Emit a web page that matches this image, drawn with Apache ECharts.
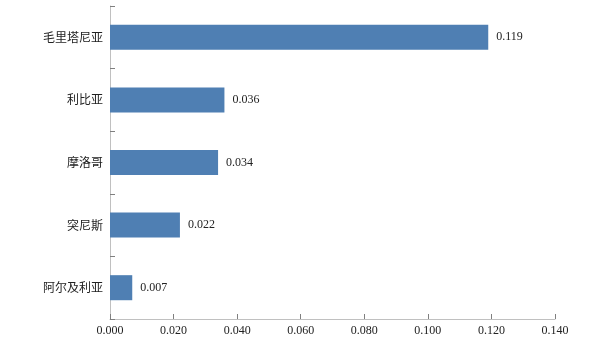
<!DOCTYPE html>
<html>
<head>
<meta charset="utf-8">
<script src="https://cdn.jsdelivr.net/npm/echarts@6/dist/echarts.min.js"></script>
<style>
  html, body { margin: 0; padding: 0; background: #ffffff; }
  #chart { width: 594px; height: 338px; }
</style>
</head>
<body>
<div id="chart"></div>
<script>
// Countries, listed top to bottom
const countries = ['毛里塔尼亚', '利比亚', '摩洛哥', '突尼斯', '阿尔及利亚'];
// Value per country
const values = [0.119, 0.036, 0.034, 0.022, 0.007];
// Value axis range
const axisMin = 0;
const axisMax = 0.14;
const axisStep = 0.02;

const latin = '"Liberation Serif", "Times New Roman", serif';
const cjk = '"Noto Sans CJK SC", sans-serif';
const axisGrey = '#c0c0c0';

const chart = echarts.init(document.getElementById('chart'), null, { renderer: 'canvas' });
chart.setOption({
  animation: false,
  backgroundColor: '#ffffff',
  grid: { left: 110, right: 39, top: 6, bottom: 19, containLabel: false },
  xAxis: {
    type: 'value',
    min: axisMin,
    max: axisMax,
    interval: axisStep,
    axisLine: { show: true, lineStyle: { color: axisGrey, width: 1 } },
    axisTick: { show: true, inside: true, length: 5, lineStyle: { color: '#7f7f7f' } },
    splitLine: { show: false },
    axisLabel: {
      color: '#222',
      fontFamily: latin,
      fontSize: 12,
      margin: 6,
      formatter: v => v.toFixed(3)
    }
  },
  yAxis: {
    type: 'category',
    data: countries,
    inverse: true,
    axisLine: { show: true, lineStyle: { color: axisGrey, width: 1 } },
    axisTick: { show: true, inside: true, length: 5, lineStyle: { color: '#7f7f7f' } },
    axisLabel: { color: '#222', fontFamily: cjk, fontSize: 12, margin: 7 }
  },
  series: [{
    type: 'bar',
    data: values,
    barWidth: '40%',
    itemStyle: { color: '#4f7fb3' },
    label: {
      show: true,
      position: 'right',
      distance: 8,
      color: '#222',
      fontFamily: latin,
      fontSize: 12,
      formatter: p => p.value.toFixed(3)
    }
  }]
});
</script>
</body>
</html>
